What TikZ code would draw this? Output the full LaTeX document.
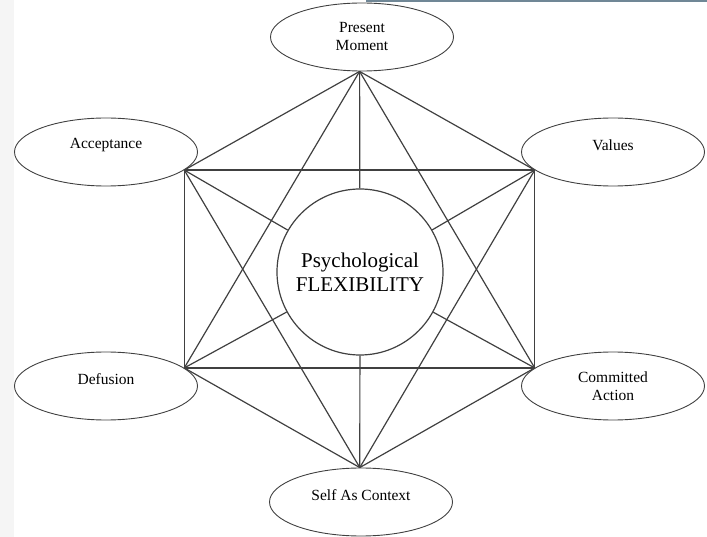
\documentclass[tikz,border=0pt]{standalone}
\usepackage{fontspec}
\setmainfont{Liberation Serif}
\usetikzlibrary{shapes.geometric}

\definecolor{barblue}{RGB}{112,135,150}

\begin{document}
\begin{tikzpicture}[x=1pt, y=-1pt,
    blob/.style={ellipse, draw=black!75, line width=0.9pt, minimum width=183pt, minimum height=68pt, inner sep=0pt},
    lbl/.style={font=\fontsize{15.5}{18}\selectfont, align=center, inner sep=0pt},
    link/.style={draw=black!75, line width=1.2pt}]
    \useasboundingbox (0,0) rectangle (707,537);
    \fill[black!4] (0,0) rectangle (14,537);
    \fill[barblue] (366,0) rectangle (707,2.5);

    % the six processes
    \node[blob] (pm) at (362,37) {};
    \node[blob] (acc) at (106,152) {};
    \node[blob] (val) at (613,152) {};
    \node[blob] (def) at (106,386) {};
    \node[blob] (com) at (613,386) {};
    \node[blob] (sac) at (361,502) {};

    \node[lbl] (pmt) at (pm) {Present\\Moment};
    \node[lbl, yshift=7pt] (acct) at (acc) {Acceptance};
    \node[lbl, yshift=7pt] (valt) at (val) {Values};
    \node[lbl, yshift=7pt] (deft) at (def) {Defusion};
    \node[lbl] (comt) at (com) {Committed\\Action};
    \node[lbl, yshift=7pt] (sact) at (sac) {Self As Context};

    \node[circle, draw=black!75, line width=1.2pt, minimum size=166pt, inner sep=0pt,
          font=\fontsize{21}{24}\selectfont, align=center] (flex) at (360,272) {Psychological\\FLEXIBILITY};

    % hub points on the ellipses
    \coordinate (t) at (pm.-94);
    \coordinate (b) at (sac.92);
    \coordinate (tl) at (acc.-13);
    \coordinate (tr) at (val.-167);
    \coordinate (bl) at (def.13);
    \coordinate (br) at (com.167);

    \draw[link] (tl) -- (tr) -- (br) -- (bl) -- cycle;

    \draw[link] (t) -- (tl);
    \draw[link] (t) -- (tr);
    \draw[link] (t) -- (bl);
    \draw[link] (t) -- (br);

    \draw[link] (b) -- (bl);
    \draw[link] (b) -- (br);
    \draw[link] (b) -- (tl);
    \draw[link] (b) -- (tr);

    \draw[link] (t) -- (flex);
    \draw[link] (b) -- (flex);
    \draw[link] (tl) -- (flex);
    \draw[link] (tr) -- (flex);
    \draw[link] (bl) -- (flex);
    \draw[link] (br) -- (flex);
\end{tikzpicture}
\end{document}
